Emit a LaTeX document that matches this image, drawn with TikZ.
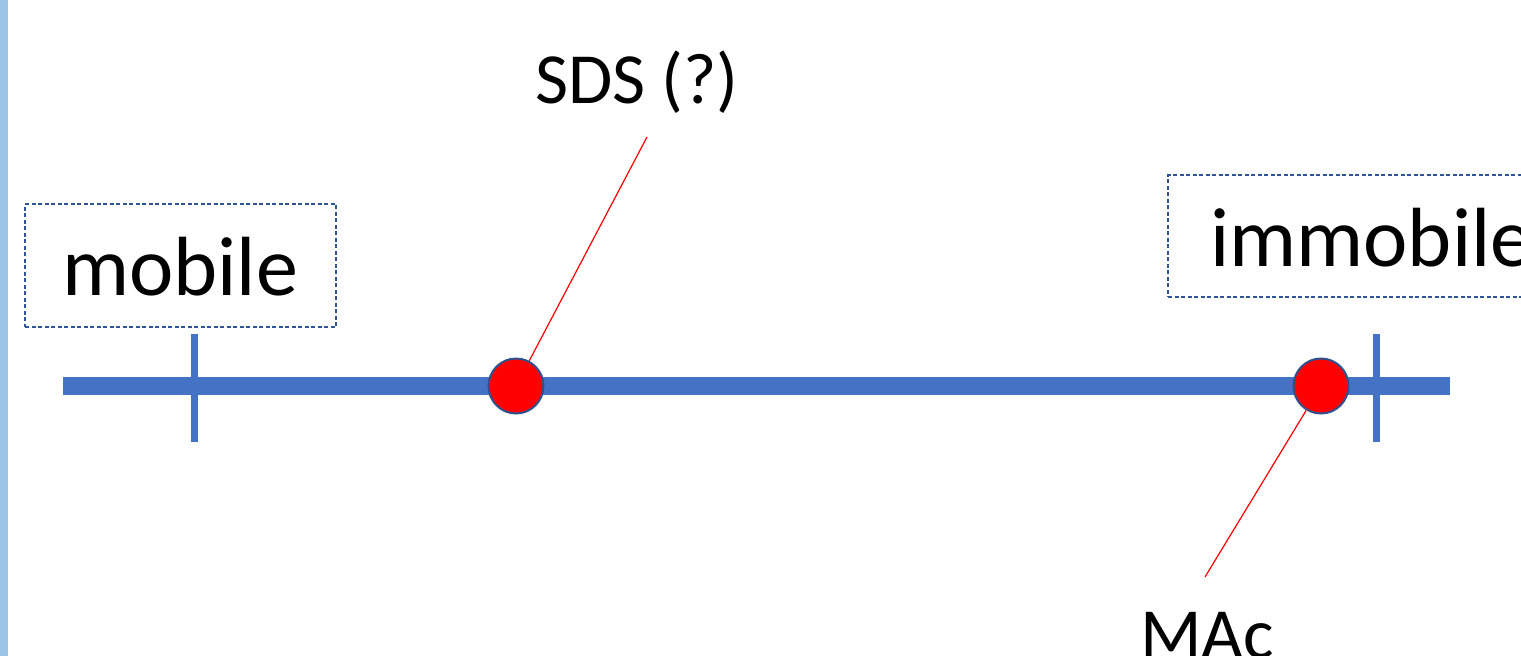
\documentclass[tikz,border=0pt]{standalone}
\usepackage{fontspec}
\setmainfont{Carlito}
\definecolor{axisblue}{HTML}{4472C4}
\definecolor{barblue}{HTML}{9DC3E6}
\definecolor{boxblue}{HTML}{2F5597}
\definecolor{dotline}{HTML}{2F528F}
\tikzset{
  axisline/.style={draw=axisblue, line width=18pt},
  tickline/.style={draw=axisblue, line width=7pt},
  dot/.style={circle, fill=red, draw=dotline, line width=2pt, minimum size=55pt, inner sep=0pt},
  leader/.style={draw=red, line width=1.2pt},
  dashbox/.style={draw=boxblue, line width=1.2pt, dash pattern=on 4pt off 2.5pt, inner sep=0pt},
  bigtext/.style={inner sep=0pt, anchor=base, font=\fontsize{84}{84}\selectfont},
  midtext/.style={inner sep=0pt, anchor=base, font=\fontsize{72}{72}\selectfont},
}
\begin{document}
\begin{tikzpicture}[x=1pt, y=-1pt]
\useasboundingbox (0,0) rectangle (1521,656);
\begin{scope}
\clip (0,0) rectangle (1521,656);
\fill[barblue] (0,0) rectangle (8,656);
% boxes
\node[dashbox, minimum width=311pt, minimum height=123pt] (mobbox) at (180.5,265.5) {};
\node[dashbox, minimum width=392pt, minimum height=122pt] (immbox) at (1364,236) {};
\node[bigtext] (mob) at (180,295) {mobile};
\node[bigtext, anchor=base west] (imm) at (1210,266) {immobile};
% axis
\coordinate (axL) at (63,386);
\coordinate (axR) at (1450,386);
\draw[axisline] (axL) -- (axR);
\coordinate (t1a) at (194,334); \coordinate (t1b) at (194,442);
\coordinate (t2a) at (1376,334); \coordinate (t2b) at (1376,442);
\draw[tickline] (t1a) -- (t1b);
\draw[tickline] (t2a) -- (t2b);
% dots
\node[dot] (sds) at (516,386) {};
\node[dot] (mac) at (1321,386) {};
% labels
\node[midtext] (sdsl) at (637,103) {SDS (?)};
\node[midtext] (macl) at (1207,658) {MAc};
\coordinate (sdsend) at (647,137);
\coordinate (macend) at (1205,577);
\draw[leader] (sdsend) -- (sds);
\draw[leader] (macend) -- (mac);
\end{scope}
\end{tikzpicture}
\end{document}
